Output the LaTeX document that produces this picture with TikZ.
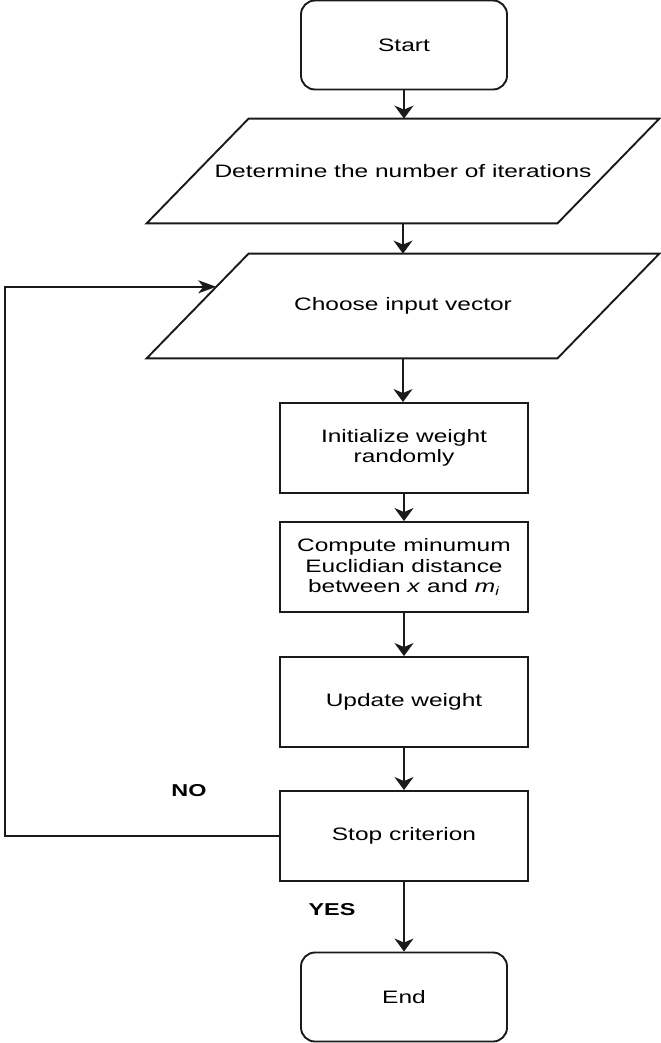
\documentclass[tikz,border=0pt]{standalone}
\usepackage{fontspec}
\setmainfont{Liberation Sans}[FakeStretch=1.36]
\usetikzlibrary{arrows.meta,calc}
\definecolor{lncol}{HTML}{1A1A1A}
\begin{document}
\begin{tikzpicture}[x=0.5pt,y=-0.5pt,
  txt/.style={font=\fontsize{9}{10.25}\selectfont, align=center, inner sep=0pt},
  ln/.style={line width=0.95pt, draw=lncol},
  box/.style={txt, ln, minimum width=124pt, minimum height=45pt},
  term/.style={box, rounded corners=7pt, minimum width=103pt, minimum height=44.5pt},
  io/.style={txt, minimum width=205pt, minimum height=52pt},
  lbl/.style={font=\fontsize{8.6}{10}\selectfont\bfseries, inner sep=0pt},
  arr/.style={ln, -{Stealth[length=6.5pt,width=9.5pt,inset=2pt]}},
  harr/.style={ln, -{Stealth[length=9pt,width=6.5pt,inset=2.5pt]}}
]
\useasboundingbox (0,0) rectangle (660,1043);

\node[term] (start) at (404,45) {Start};

\node[io] (det) at (403,171) {Determine the number of iterations};
\draw[ln] ([xshift=25.5pt]det.north west) -- ([xshift=25.5pt]det.north east)
  -- ([xshift=-25.5pt]det.south east) -- ([xshift=-25.5pt]det.south west) -- cycle;

\node[io] (cho) at (403,306) {Choose input vector};
\coordinate (choTL) at ([xshift=25.5pt]cho.north west);
\coordinate (choBL) at ([xshift=-25.5pt]cho.south west);
\draw[ln] (choTL) -- ([xshift=25.5pt]cho.north east)
  -- ([xshift=-25.5pt]cho.south east) -- (choBL) -- cycle;
\coordinate (loopin) at ($(choTL)!0.317!(choBL)$);

\node[box] (init) at (404,448) {Initialize weight\\randomly};
\node[box] (comp) at (404,567) {Compute minumum\\Euclidian distance\\between \textit{x} and \textit{m\textsubscript{i}}};
\node[box] (upd) at (404,702) {Update weight};
\node[box] (stop) at (404,836) {Stop criterion};
\node[term] (end) at (404,997) {End};

\node[lbl] (no) at (189,791) {NO};
\node[lbl] (yes) at (332,910) {YES};

\draw[arr] (start.south) -- (start.south |- det.north);
\draw[arr] (det.south) -- (det.south |- cho.north);
\draw[arr] (cho.south) -- (cho.south |- init.north);
\draw[arr] (init) -- (comp);
\draw[arr] (comp) -- (upd);
\draw[arr] (upd) -- (stop);
\draw[arr] (stop) -- (end);

\coordinate (lc) at (5,836);
\draw[harr] (stop.west) -- (lc) |- (loopin);
\end{tikzpicture}
\end{document}
